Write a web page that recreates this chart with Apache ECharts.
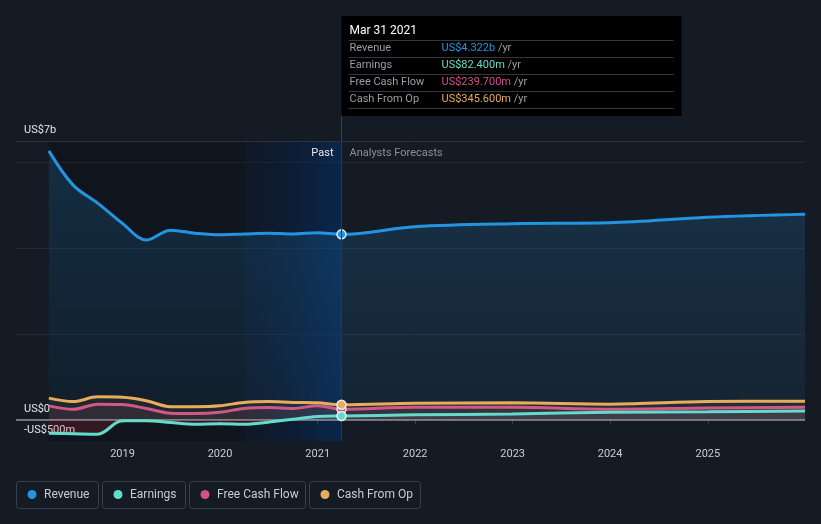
<!DOCTYPE html>
<html><head><meta charset="utf-8">
<script src="https://cdn.jsdelivr.net/npm/echarts@6/dist/echarts.min.js"></script>
<style>html,body{margin:0;padding:0;background:#151b25;} #c{width:821px;height:524px;}</style>
</head><body><div id="c"></div>
<script>
// ---------- data (billions US$) ----------
const pastDates = ['2018-03-31','2018-06-30','2018-09-30','2018-12-31','2019-03-31','2019-06-30','2019-09-30','2019-12-31','2020-03-31','2020-06-30','2020-09-30','2020-12-31','2021-03-31'];
const forecastDates = ['2021-12-31','2022-12-31','2023-12-31','2024-12-31','2025-12-31'];
const revenuePast = [6.27, 5.47, 5.05, 4.58, 4.19, 4.42, 4.35, 4.31, 4.33, 4.35, 4.33, 4.36, 4.322];
const revenueForecast = [4.50, 4.57, 4.59, 4.72, 4.79];
const earningsPast = [-0.32, -0.33, -0.34, -0.03, -0.03, -0.07, -0.11, -0.10, -0.11, -0.06, 0.01, 0.07, 0.0824];
const earningsForecast = [0.11, 0.13, 0.17, 0.18, 0.20];
const fcfPast = [0.32, 0.24, 0.36, 0.35, 0.26, 0.15, 0.14, 0.17, 0.26, 0.28, 0.26, 0.32, 0.2397];
const fcfForecast = [0.29, 0.29, 0.24, 0.27, 0.29];
const cfoPast = [0.50, 0.42, 0.53, 0.52, 0.44, 0.30, 0.30, 0.32, 0.40, 0.42, 0.40, 0.39, 0.3456];
const cfoForecast = [0.38, 0.39, 0.36, 0.42, 0.43];
const seriesNames = ['Revenue', 'Earnings', 'Free Cash Flow', 'Cash From Op'];
const seriesColors = ['#2394df', '#63dccb', '#d0528a', '#e8ad5a'];
const yearLabels = ['2019','2020','2021','2022','2023','2024','2025'];
const yLabelValues = [-0.5, 0, 6.5];
const yLabelTexts = ['-US$500m', 'US$0', 'US$7b'];
const axisStart = '2017-11-28';
const axisEnd = '2025-12-31';
const highlightStart = '2020-03-31';
const tooltipTitle = 'Mar 31 2021';

// ---------- helpers ----------
const parse = s => { const [y, m, d] = s.split('-').map(Number); return Date.UTC(y, m - 1, d); };
const lastIdx = pastDates.length - 1;
function build(past, fut, color) {
  const arr = pastDates.map((d, i) => [parse(d), past[i]]).concat(forecastDates.map((d, i) => [parse(d), fut[i]]));
  return arr.map((v, i) => i === lastIdx ? {value: v, symbol: 'circle', symbolSize: 9,
    itemStyle: {color: color, borderColor: '#e6edf5', borderWidth: 1.5}} : {value: v});
}
function fmt(v) { return Math.abs(v) >= 1 ? 'US$' + v.toFixed(3) + 'b' : 'US$' + (v * 1000).toFixed(3) + 'm'; }
const yearTickValues = yearLabels.map(y => parse(y + '-01-01'));
const FONT = 'Roboto, "Noto Sans", sans-serif';

const chart = echarts.init(document.getElementById('c'));

const baseLine = (name, idx, past, fut, area, z) => ({
  name: name, type: 'line', data: build(past, fut, seriesColors[idx]),
  symbol: 'none', showSymbol: true, smooth: 0.35,
  lineStyle: {color: seriesColors[idx], width: 3}, itemStyle: {color: seriesColors[idx]},
  areaStyle: area, z: z, animation: false, silent: true
});

const option = {
  backgroundColor: '#151b25',
  textStyle: {fontFamily: FONT},
  animation: false,
  grid: {left: 16, right: 16, top: 141, bottom: 83},
  xAxis: [{
    type: 'value', min: parse(axisStart), max: parse(axisEnd),
    axisLine: {lineStyle: {color: '#3a3f49', width: 1}},
    axisTick: {show: true, customValues: yearTickValues, length: 5, lineStyle: {color: '#3a3f49'}},
    axisLabel: {customValues: yearTickValues, formatter: v => String(new Date(v).getUTCFullYear()),
      color: '#c9cdd3', fontSize: 11, margin: 8, fontFamily: FONT},
    splitLine: {show: false}
  }, {
    type: 'value', position: 'top', min: parse(axisStart), max: parse(axisEnd),
    axisLine: {show: true, lineStyle: {color: '#2c313a', width: 1}},
    axisTick: {show: false}, axisLabel: {show: false}, splitLine: {show: false}
  }],
  yAxis: {
    type: 'value', min: -0.5, max: 6.5, interval: 0.5,
    axisLine: {show: false}, axisTick: {show: false},
    splitLine: {lineStyle: {color: ['rgba(0,0,0,0)', '#252a33', 'rgba(0,0,0,0)', 'rgba(0,0,0,0)'], width: 1}},
    axisLabel: {inside: true, margin: 8, showMinLabel: true, showMaxLabel: true,
      formatter: v => { const k = yLabelValues.findIndex(x => Math.abs(x - v) < 1e-9); return k >= 0 ? yLabelTexts[k] : ''; },
      color: '#e2e4e8', fontSize: 11, verticalAlign: 'bottom', padding: [0, 0, 5, 0], fontFamily: FONT}
  },
  series: [
    Object.assign(baseLine(seriesNames[0], 0, revenuePast, revenueForecast, {
      color: new echarts.graphic.LinearGradient(0, 0, 0, 1, [{offset: 0, color: 'rgba(35,148,223,0.28)'}, {offset: 1, color: 'rgba(35,148,223,0.10)'}])
    }, 3), {
      markArea: {silent: true, z: 0, data: [
        [{xAxis: parse(pastDates[0]), itemStyle: {color: 'rgba(0,0,0,0.2)'}}, {xAxis: parse(highlightStart)}],
        [{xAxis: parse(highlightStart), itemStyle: {color: new echarts.graphic.LinearGradient(0, 0, 1, 0, [{offset: 0, color: 'rgba(0,15,40,0.25)'}, {offset: 1, color: 'rgba(0,50,115,0.5)'}])}}, {xAxis: parse(pastDates[lastIdx])}]
      ]},
      markLine: {silent: true, symbol: ['none', 'none'], label: {show: false},
        lineStyle: {color: '#24395a', width: 1, type: 'solid'},
        data: [{xAxis: parse(pastDates[lastIdx])}]}
    }),
    baseLine(seriesNames[2], 2, fcfPast, fcfForecast, {color: 'rgba(208,82,138,0.14)'}, 4),
    baseLine(seriesNames[3], 3, cfoPast, cfoForecast, {color: 'rgba(232,173,90,0.10)'}, 5),
    Object.assign(baseLine(seriesNames[1], 1, earningsPast, earningsForecast, {color: 'rgba(190,45,70,0.25)'}, 6), {
      markLine: {silent: true, symbol: ['none', 'none'], label: {show: false},
        lineStyle: {color: '#8d9096', width: 1.5, type: 'solid'}, data: [{yAxis: 0}]}
    })
  ]
};
chart.setOption(option);

// pixel positions derived from the axes
const lx = Math.round(chart.convertToPixel({xAxisIndex: 0}, parse(pastDates[lastIdx]))) + 0.5;
const zeroY = chart.convertToPixel({yAxisIndex: 0}, 0);
const topY = chart.convertToPixel({yAxisIndex: 0}, 6.5);
const botY = chart.convertToPixel({yAxisIndex: 0}, -0.5);

// earnings area: red below zero, grey above
chart.setOption({series: [{}, {}, {}, {
  areaStyle: {color: new echarts.graphic.LinearGradient(0, topY, 0, botY, [
    {offset: 0, color: 'rgba(200,200,210,0.10)'},
    {offset: (zeroY - topY) / (botY - topY), color: 'rgba(200,200,210,0.10)'},
    {offset: (zeroY - topY) / (botY - topY), color: 'rgba(190,40,60,0.28)'},
    {offset: 1, color: 'rgba(190,40,60,0.28)'}], true)}
}]});

const pastVals = [revenuePast[lastIdx], earningsPast[lastIdx], fcfPast[lastIdx], cfoPast[lastIdx]];
const graphics = [];
graphics.push({type: 'line', silent: true, shape: {x1: lx, y1: 116, x2: lx, y2: topY}, style: {stroke: '#3a3f49', lineWidth: 1}});
const boxW = 340;
graphics.push({type: 'rect', silent: true, shape: {x: lx, y: 16, width: boxW, height: 100}, style: {fill: '#000000'}});
graphics.push({type: 'text', silent: true, x: lx + 8, y: 31, style: {text: tooltipTitle, fill: '#ffffff', font: '12px ' + FONT, verticalAlign: 'middle'}});
[40, 57, 74, 91, 108].forEach(y => graphics.push({type: 'line', silent: true,
  shape: {x1: lx + 7, y1: y + 0.5, x2: lx + 332, y2: y + 0.5}, style: {stroke: '#34363a', lineWidth: 1}}));
seriesNames.forEach((n, i) => {
  const y = 48.5 + i * 17;
  graphics.push({type: 'text', silent: true, x: lx + 8, y: y, style: {text: n, fill: '#9a9ea5', font: '11px ' + FONT, verticalAlign: 'middle'}});
  graphics.push({type: 'text', silent: true, x: lx + 100, y: y, style: {
    text: '{v|' + fmt(pastVals[i]) + '} {u|/yr}', verticalAlign: 'middle', font: '11px ' + FONT,
    rich: {v: {fill: seriesColors[i], font: '11px ' + FONT}, u: {fill: '#9a9ea5', font: '11px ' + FONT}}}});
});
graphics.push({type: 'text', silent: true, x: lx - 8, y: 153, style: {text: 'Past', fill: '#e8e8e8', font: '11px ' + FONT, align: 'right', verticalAlign: 'middle'}});
graphics.push({type: 'text', silent: true, x: lx + 8, y: 153, style: {text: 'Analysts Forecasts', fill: '#8a9099', font: '11px ' + FONT, align: 'left', verticalAlign: 'middle'}});
const legX = [16, 102, 189, 309], legW = [82, 83, 116, 111];
seriesNames.forEach((n, i) => {
  graphics.push({type: 'rect', silent: true, shape: {x: legX[i] + 0.5, y: 481.5, width: legW[i], height: 27, r: 3},
    style: {fill: 'none', stroke: '#3a3f4a', lineWidth: 1}});
  graphics.push({type: 'circle', silent: true, shape: {cx: legX[i] + 16, cy: 494.5, r: 4.5}, style: {fill: seriesColors[i]}});
  graphics.push({type: 'text', silent: true, x: legX[i] + 28, y: 495, style: {text: n, fill: '#c8ccd2', font: '12px ' + FONT, verticalAlign: 'middle'}});
});
chart.setOption({graphic: graphics});
</script></body></html>
